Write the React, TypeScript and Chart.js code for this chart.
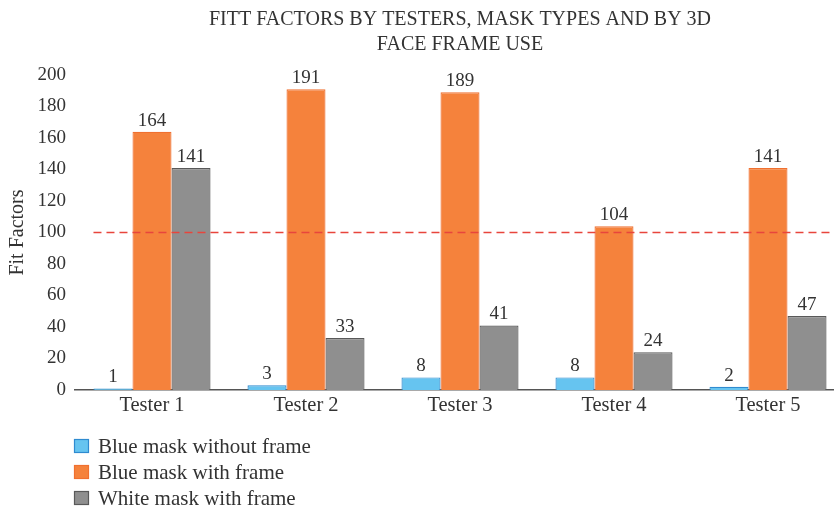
import React, { useEffect, useRef } from "react";
import { Chart, registerables } from "chart.js";

Chart.register(...registerables);

const categories = ["Tester 1", "Tester 2", "Tester 3", "Tester 4", "Tester 5"];
const blueWithoutFrame = [1, 3, 8, 8, 2];
const blueWithFrame = [164, 191, 189, 104, 141];
const whiteWithFrame = [141, 33, 41, 24, 47];
const seriesNames = ["Blue mask without frame", "Blue mask with frame", "White mask with frame"];
const titleLines = ["FITT FACTORS BY TESTERS, MASK TYPES AND BY 3D", "FACE FRAME USE"];
const yAxisTitle = "Fit Factors";
const thresholdValue = 100;

const FONT = "'Liberation Serif', 'Times New Roman', serif";
const TEXT = "#333333";

const valueLabels = {
  id: "valueLabels",
  afterDatasetsDraw(chart: any) {
    const ctx = chart.ctx;
    ctx.save();
    ctx.font = `19px ${FONT}`;
    ctx.fillStyle = TEXT;
    ctx.textAlign = "center";
    ctx.textBaseline = "alphabetic";
    chart.data.datasets.forEach((ds: any, i: number) => {
      const meta = chart.getDatasetMeta(i);
      meta.data.forEach((el: any, j: number) => {
        ctx.fillText(String(ds.data[j]), el.x, el.y - 6);
      });
    });
    ctx.restore();
  },
};

const thresholdLine = {
  id: "thresholdLine",
  afterDatasetsDraw(chart: any) {
    const ctx = chart.ctx;
    const y = chart.scales.y.getPixelForValue(thresholdValue);
    const first = chart.getDatasetMeta(0).data[0] as any;
    const x0 = first.x - first.width / 2;
    ctx.save();
    ctx.strokeStyle = "#E8453C";
    ctx.lineWidth = 1.6;
    ctx.setLineDash([8, 5]);
    ctx.beginPath();
    ctx.moveTo(x0, y);
    ctx.lineTo(836, y);
    ctx.stroke();
    ctx.restore();
  },
};

const centeredTitle = {
  id: "centeredTitle",
  afterDraw(chart: any) {
    const ctx = chart.ctx;
    const { left, right } = chart.chartArea;
    const cx = (left + right) / 2;
    ctx.save();
    ctx.font = `20px ${FONT}`;
    ctx.fillStyle = TEXT;
    ctx.textAlign = "center";
    ctx.textBaseline = "alphabetic";
    titleLines.forEach((line, i) => {
      ctx.fillText(line, cx, 25 + i * 25);
    });
    ctx.restore();
  },
};

const customLegend = {
  id: "customLegend",
  afterDraw(chart: any) {
    const ctx = chart.ctx;
    ctx.save();
    ctx.font = `21px ${FONT}`;
    ctx.textAlign = "left";
    ctx.textBaseline = "alphabetic";
    chart.data.datasets.forEach((ds: any, i: number) => {
      const top = 439 + i * 26;
      ctx.fillStyle = ds.backgroundColor;
      ctx.fillRect(74, top, 15, 14);
      ctx.strokeStyle = ds.borderColor;
      ctx.lineWidth = 1.2;
      ctx.strokeRect(74.5, top + 0.5, 14, 13);
      ctx.fillStyle = TEXT;
      ctx.fillText(ds.label, 98, top + 14);
    });
    ctx.restore();
  },
};

export default function App() {
  const ref = useRef<HTMLCanvasElement>(null);
  useEffect(() => {
    if (!ref.current) return;
    const chart = new Chart(ref.current, {
      type: "bar",
      data: {
        labels: categories,
        datasets: [
          {
            label: seriesNames[0],
            data: blueWithoutFrame,
            backgroundColor: "#66C4F0",
            borderColor: "#2F8BD0",
            borderWidth: 1.2,
          },
          {
            label: seriesNames[1],
            data: blueWithFrame,
            backgroundColor: "#F5823C",
            borderColor: "#F07030",
            borderWidth: 1.2,
          },
          {
            label: seriesNames[2],
            data: whiteWithFrame,
            backgroundColor: "#8F8F8F",
            borderColor: "#595959",
            borderWidth: 1.2,
          },
        ],
      },
      options: {
        responsive: false,
        animation: false,
        devicePixelRatio: 1,
        layout: { padding: { top: 75, left: 0, right: 0, bottom: 0 } },
        datasets: { bar: { categoryPercentage: 0.76, barPercentage: 1.0 } },
        plugins: {
          legend: { display: false },
          tooltip: { enabled: false },
          title: { display: false },
        },
        scales: {
          x: {
            grid: { display: false, drawTicks: false },
            border: { display: true, color: "#555555", width: 1.5 },
            ticks: { color: TEXT, font: { family: FONT, size: 20.5 }, padding: 3 },
            afterFit: (scale: any) => {
              scale.height = 116;
            },
          },
          y: {
            min: 0,
            max: 200,
            grid: { display: false, drawTicks: false },
            border: { display: false },
            ticks: { stepSize: 20, color: TEXT, font: { family: FONT, size: 19 }, padding: 9 },
            title: {
              display: true,
              text: yAxisTitle,
              color: TEXT,
              font: { family: FONT, size: 20, weight: "normal", lineHeight: 1.2 },
              padding: { top: 6, bottom: 6 },
            },
            afterFit: (scale: any) => {
              scale.width = 75;
            },
          },
        },
      },
      plugins: [thresholdLine, valueLabels, centeredTitle, customLegend],
    });
    return () => chart.destroy();
  }, []);
  return (
    <div style={{ position: "absolute", left: 0, top: 0, width: 834, height: 506, overflow: "hidden", background: "#fff" }}>
      <canvas ref={ref} width={845} height={506} style={{ display: "block" }} />
    </div>
  );
}
